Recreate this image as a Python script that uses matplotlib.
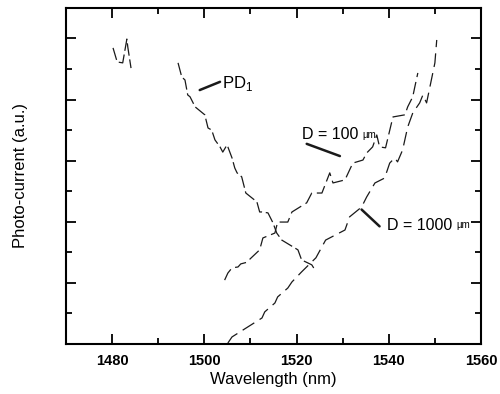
import numpy as np
import matplotlib
matplotlib.use("Agg")
import matplotlib.pyplot as plt
from matplotlib.ticker import MultipleLocator

plt.rcParams['font.family'] = ['Liberation Sans', 'DejaVu Sans']

# PD1 reference photodiode (descending)
pd1_x = [1494.3, 1495.1, 1495.8, 1496.4, 1496.9, 1498.0, 1500.1, 1500.8, 1501.6, 1502.3,
         1503.4, 1504.0, 1504.9, 1505.1, 1506.0, 1506.6, 1507.1, 1508.1, 1509.0, 1511.4,
         1512.0, 1512.5, 1513.8, 1514.9, 1515.7, 1516.8, 1520.3, 1521.1, 1523.3, 1524.0]
pd1_y = [9.20, 8.74, 8.64, 8.15, 8.09, 7.76, 7.50, 7.07, 7.00, 6.68,
         6.45, 6.28, 6.51, 6.45, 6.09, 5.76, 5.60, 5.47, 4.94, 4.65,
         4.32, 4.32, 4.29, 3.96, 3.63, 3.40, 3.08, 2.75, 2.59, 2.42]
# short piece of PD1 near 1480 nm
pd1_tail_x = [1480.2, 1481.1, 1482.3, 1483.2, 1483.4, 1484.1]
pd1_tail_y = [9.69, 9.23, 9.20, 9.98, 9.72, 9.03]

# D = 100 um
d100_x = [1504.4, 1505.1, 1506.0, 1507.3, 1507.9, 1509.4, 1509.9, 1512.0, 1512.7, 1515.3,
          1515.9, 1518.1, 1519.0, 1522.2, 1523.3, 1525.5, 1527.2, 1527.9, 1530.5, 1532.2,
          1534.4, 1535.2, 1536.5, 1537.4, 1538.0, 1539.3, 1540.9, 1543.5, 1544.1, 1545.2,
          1545.6, 1546.3]
d100_y = [2.09, 2.32, 2.49, 2.52, 2.62, 2.68, 2.78, 3.08, 3.47, 3.63,
          3.99, 3.99, 4.32, 4.62, 4.94, 4.94, 5.60, 5.27, 5.37, 5.92,
          6.02, 6.25, 6.45, 6.84, 6.45, 6.42, 7.43, 7.50, 7.76, 8.09,
          8.38, 8.87]

# D = 1000 um
d1000_x = [1505.1, 1506.0, 1512.5, 1513.1, 1515.3, 1515.9, 1518.1, 1519.0, 1521.1, 1524.2,
           1526.3, 1530.5, 1531.5, 1534.1, 1535.2, 1537.0, 1539.1, 1540.2, 1541.3, 1541.9,
           1543.0, 1544.1, 1545.2, 1546.7, 1547.4, 1548.2, 1550.0, 1550.4]
d1000_y = [0.03, 0.23, 0.85, 1.05, 1.34, 1.54, 1.83, 2.03, 2.36, 2.82,
           3.40, 3.73, 4.16, 4.48, 4.81, 5.27, 5.43, 5.92, 6.09, 5.96,
           6.35, 7.10, 7.56, 7.89, 8.15, 7.89, 9.20, 9.95]

fig = plt.figure(figsize=(5, 3.94), dpi=100)
ax = fig.add_axes([0.132, 0.127, 0.83, 0.853])

lc = '#1a1a1a'
ax.plot(pd1_x, pd1_y, color=lc, lw=0.9, linestyle=(0, (10, 3)))
ax.plot(pd1_tail_x, pd1_tail_y, color=lc, lw=0.9, linestyle=(0, (10, 3)))
ax.plot(d100_x, d100_y, color=lc, lw=0.9, linestyle=(0, (10, 4)))
ax.plot(d1000_x, d1000_y, color=lc, lw=0.9, linestyle=(0, (11, 5)))

ax.set_xlim(1470, 1560)
ax.set_ylim(0, 11)
ax.xaxis.set_major_locator(MultipleLocator(20))
ax.xaxis.set_minor_locator(MultipleLocator(10))
ax.yaxis.set_major_locator(MultipleLocator(2))
ax.yaxis.set_minor_locator(MultipleLocator(1))
ax.set_yticklabels([])
ax.tick_params(which='both', direction='in', top=True, right=True, width=1.3)
ax.tick_params(which='major', length=7)
ax.tick_params(which='minor', length=4)
ax.tick_params(axis='x', labelsize=10.5, pad=7)
for lab in ax.get_xticklabels():
    lab.set_fontweight('bold')
for sp in ax.spines.values():
    sp.set_linewidth(1.5)

ax.set_xlabel('Wavelength (nm)', fontsize=12, labelpad=3)
ax.set_ylabel('Photo-current (a.u.)', fontsize=12, labelpad=24)

# labels
ax.text(1503.8, 8.51, 'PD$_\\mathregular{1}$', fontsize=12, va='center', ha='left')
t100 = ax.text(1521.2, 6.84, 'D = 100', fontsize=11.5, va='center', ha='left')
ax.annotate('\u00b5m', xy=(1, 0.5), xycoords=t100, xytext=(3, 0),
            textcoords='offset points', fontsize=7, va='center', ha='left')
t1000 = ax.text(1539.6, 3.88, 'D = 1000', fontsize=11.5, va='center', ha='left')
ax.annotate('\u00b5m', xy=(1, 0.5), xycoords=t1000, xytext=(3, 0),
            textcoords='offset points', fontsize=7, va='center', ha='left')

# leader lines
leader = dict(arrowstyle='-', lw=1.8, color=lc, shrinkA=0, shrinkB=0)
ax.annotate('', xy=(1499.0, 8.31), xytext=(1503.4, 8.58), arrowprops=leader)
ax.annotate('', xy=(1529.4, 6.15), xytext=(1522.2, 6.55), arrowprops=leader)
ax.annotate('', xy=(1534.1, 4.40), xytext=(1538.0, 3.85), arrowprops=leader)

fig.savefig('out.png', dpi=100)
